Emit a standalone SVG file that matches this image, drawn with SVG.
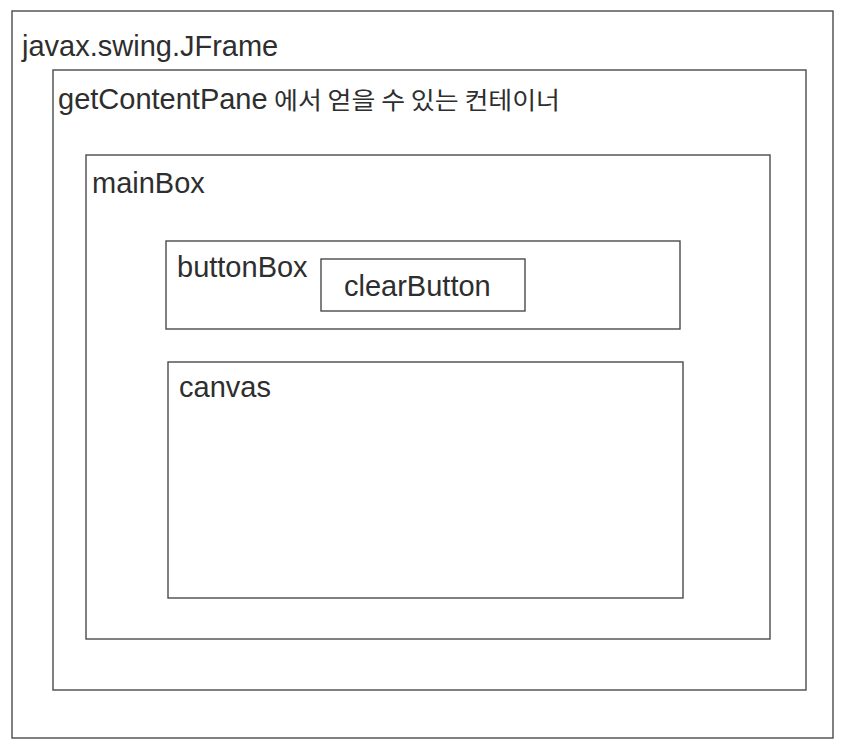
<svg xmlns="http://www.w3.org/2000/svg" width="856" height="752" viewBox="0 0 856 752">
<style>
.box{fill:none;stroke:#4a4a4a;stroke-width:1.4}
.lbl{font-family:"Liberation Sans",Arial,sans-serif;font-size:29px;fill:#2e2e2e}
.kr{font-family:"Noto Sans CJK KR","Liberation Sans",sans-serif;font-size:24px;fill:#2e2e2e}
</style>
<rect width="856" height="752" fill="#ffffff"/>
<g id="jframe">
<rect class="box" x="12" y="11" width="821" height="727"/>
<text class="lbl" x="22" y="56">javax.swing.JFrame</text>
</g>
<g id="contentPane">
<rect class="box" x="53" y="70" width="753" height="620"/>
<text class="lbl" x="58" y="109">getContentPane<tspan class="kr" x="274" textLength="286" lengthAdjust="spacingAndGlyphs">에서 얻을 수 있는 컨테이너</tspan></text>
</g>
<g id="mainBox">
<rect class="box" x="86" y="155" width="684" height="484"/>
<text class="lbl" x="92" y="193">mainBox</text>
</g>
<g id="buttonBox">
<rect class="box" x="166" y="241" width="514" height="88"/>
<text class="lbl" x="177" y="277">buttonBox</text>
</g>
<g id="clearButton">
<rect class="box" x="321" y="259" width="204" height="52"/>
<text class="lbl" x="344" y="296">clearButton</text>
</g>
<g id="canvas">
<rect class="box" x="168" y="362" width="515" height="236"/>
<text class="lbl" x="179" y="397">canvas</text>
</g>
<g id="connectors"/>
</svg>
